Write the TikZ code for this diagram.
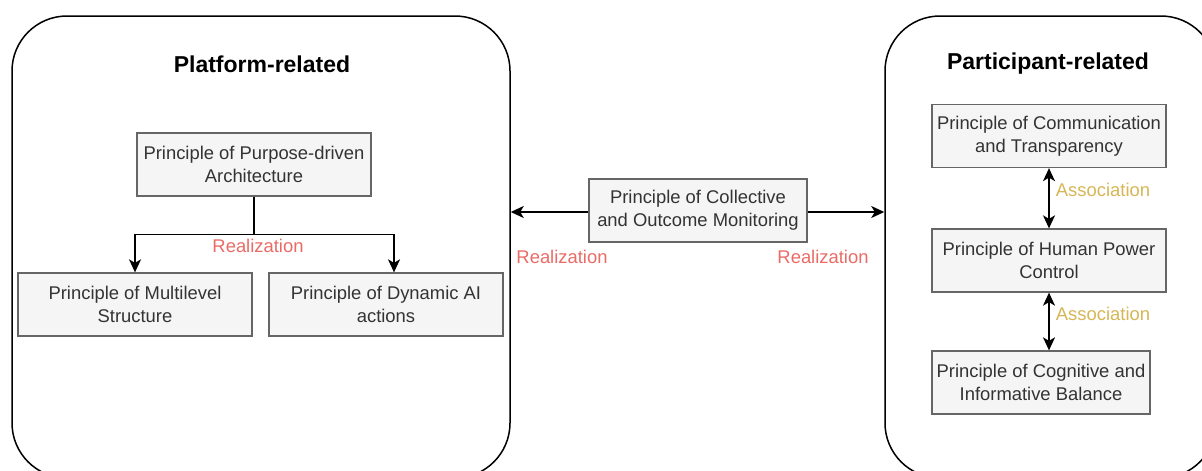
\documentclass[tikz,border=0pt]{standalone}
\usepackage{fontspec}
\setmainfont{Liberation Sans}
\usetikzlibrary{arrows.meta}
\definecolor{boxfill}{HTML}{F5F5F5}
\definecolor{boxline}{HTML}{666666}
\definecolor{txt}{HTML}{333333}
\definecolor{realc}{HTML}{EA6B66}
\definecolor{assoc}{HTML}{D6B656}
\tikzset{
  container/.style={draw=black, line width=1.5pt, rounded corners=55pt, fill=white},
  title/.style={font=\fontsize{23}{27}\selectfont\bfseries, text=black},
  pbox/.style={draw=boxline, fill=boxfill, line width=1.3pt, text=txt, align=center,
    font=\fontsize{18.4}{23}\selectfont, minimum width=234pt, minimum height=63pt, inner sep=2pt},
  arr/.style={line width=1.5pt, -{Stealth[length=13pt,width=12pt,inset=3.5pt]}},
  darr/.style={line width=1.5pt, {Stealth[length=13pt,width=12pt,inset=3.5pt]}-{Stealth[length=13pt,width=12pt,inset=3.5pt]}},
  rlabel/.style={text=realc, font=\fontsize{18.4}{22}\selectfont},
  alabel/.style={text=assoc, font=\fontsize{18.4}{22}\selectfont},
}
\begin{document}
\begin{tikzpicture}[x=1pt,y=-1pt]
\useasboundingbox (0,0) rectangle (1202,471);
\clip (0,0) rectangle (1202,471);
% containers
\node[container, minimum width=498pt, minimum height=462pt] (left) at (261,247) {};
\node[container, minimum width=331pt, minimum height=462pt] (right) at (1050.5,247) {};
\node[title] (ltitle) at (262,64) {Platform-related};
\node[title] (rtitle) at (1048,64) {Participant-related};
% left boxes
\node[pbox] (purpose) at (254,164.5) {Principle of Purpose-driven\\Architecture};
\node[pbox] (multi) at (135,304.5) {Principle of Multilevel\\Structure};
\node[pbox] (dyn) at (386,304.5) {Principle of Dynamic AI\\actions};
\draw[line width=1.5pt] (purpose.south) -- ++(0,38) coordinate (j);
\draw[arr] (j) -| (multi.north);
\draw[arr] (j) -| ([xshift=8pt]dyn.north);
\node[rlabel] (r1) at (258,246) {Realization};
% central
\node[pbox, minimum width=218pt] (central) at (698,210.5) {Principle of Collective\\and Outcome Monitoring};
\draw[arr] ([yshift=-1.5pt]central.west) -- ([yshift=-1.5pt]left.east |- central.west);
\draw[arr] ([yshift=-1.5pt]central.east) -- ([yshift=-1.5pt]right.west |- central.east);
\node[rlabel] (r2) at (562,257) {Realization};
\node[rlabel] (r3) at (823,257) {Realization};
% right boxes
\node[pbox] (comm) at (1049,136) {Principle of Communication\\and Transparency};
\node[pbox] (human) at (1049,260.5) {Principle of Human Power\\Control};
\node[pbox, minimum width=218pt] (cog) at (1041,382.5) {Principle of Cognitive and\\Informative Balance};
\draw[darr] (comm.south) -- (human.north);
\draw[darr] (human.south) -- (human.south |- cog.north);
\node[alabel] (a1) at (1103,190) {Association};
\node[alabel] (a2) at (1103,314) {Association};
\end{tikzpicture}
\end{document}
